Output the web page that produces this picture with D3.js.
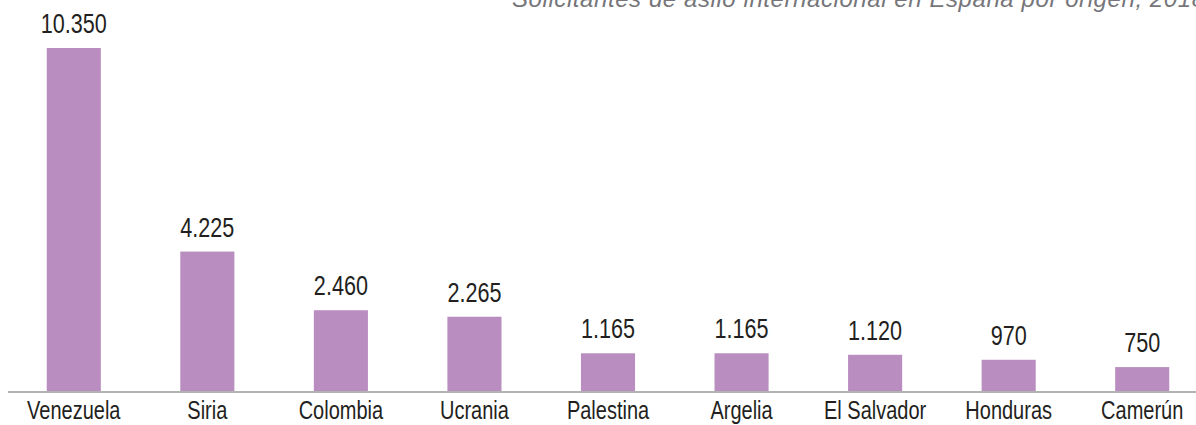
<!DOCTYPE html>
<html>
<head>
<meta charset="utf-8">
<script src="https://cdn.jsdelivr.net/npm/d3@7"></script>
<style>
body { margin: 0; background: #fff; }
svg { display: block; }
</style>
</head>
<body>
<div id="chart"></div>
<script>
var w = 1196;
var h = 425;

// data
var countries = ["Venezuela", "Siria", "Colombia", "Ucrania", "Palestina", "Argelia", "El Salvador", "Honduras", "Camerún"];
var solicitantes = [10350, 4225, 2460, 2265, 1165, 1165, 1120, 970, 750];
var title = "Solicitantes de asilo internacional en España por origen, 2018";

var baseY = 392;
// no condensed font installed, so squeeze Liberation Sans horizontally
var font = "'Liberation Sans', Arial, sans-serif";
var squeeze = "scale(0.8,1)";

var svg = d3.select("#chart")
    .append("svg")
    .attr("width", w)
    .attr("height", h);

var esFormat = d3.formatLocale({ decimal: ",", thousands: ".", grouping: [3], currency: ["", "€"] }).format(",");

var xScale = d3.scaleBand()
    .domain(countries)
    .range([7, 1209])
    .paddingInner(0.595)
    .paddingOuter(0.2975);

var yScale = d3.scaleLinear()
    .domain([0, 10350])
    .range([baseY, 48]);

// title, cut at the right edge like the original
svg.append("text")
    .attr("x", 512)
    .attr("y", 7)
    .attr("font-family", font)
    .attr("font-style", "italic")
    .attr("font-size", "24px")
    .attr("textLength", 693)
    .attr("lengthAdjust", "spacing")
    .attr("fill", "#76767a")
    .text(title);

// bars
svg.selectAll("rect")
    .data(solicitantes)
    .enter()
    .append("rect")
    .attr("x", function (d, i) { return xScale(countries[i]); })
    .attr("y", function (d) { return yScale(d); })
    .attr("width", xScale.bandwidth())
    .attr("height", function (d) { return yScale(0) - yScale(d); })
    .attr("fill", "#ba8dc1");

// value labels
svg.selectAll("g.value")
    .data(solicitantes)
    .enter()
    .append("g")
    .attr("class", "value")
    .attr("transform", function (d, i) {
        return "translate(" + (xScale(countries[i]) + xScale.bandwidth() / 2) + "," + (yScale(d) - 15) + ")";
    })
    .append("text")
    .attr("transform", squeeze)
    .attr("text-anchor", "middle")
    .attr("font-family", font)
    .attr("font-size", "27px")
    .attr("fill", "#231f20")
    .text(function (d) { return esFormat(d); });

// baseline + category labels
var xAxis = d3.axisBottom(xScale).tickSize(0).tickPadding(9);

var gx = svg.append("g")
    .attr("transform", "translate(0," + baseY + ")")
    .call(xAxis);

gx.select(".domain")
    .attr("d", "M8,0H1196")
    .attr("stroke", "#b3b3b3")
    .attr("stroke-width", 2);

gx.selectAll(".tick text")
    .attr("transform", squeeze)
    .attr("font-family", font)
    .attr("font-size", "25px")
    .attr("fill", "#231f20");
</script>
</body>
</html>
